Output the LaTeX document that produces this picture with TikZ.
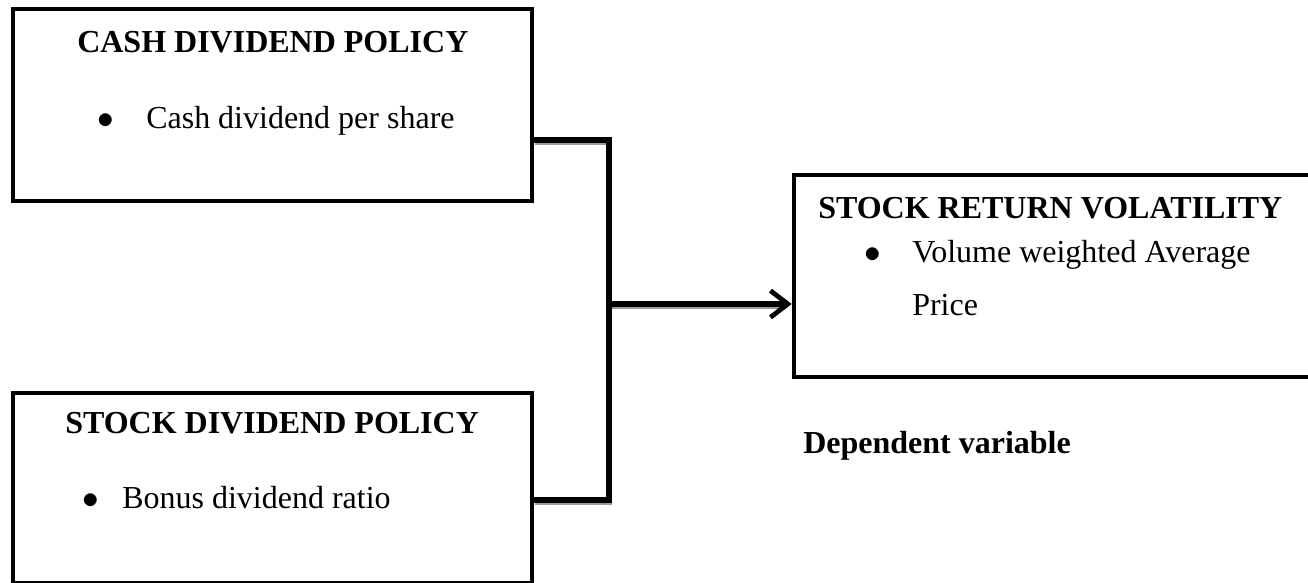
\documentclass[tikz,border=0pt]{standalone}
\usepackage{fontspec}
\setmainfont{Liberation Serif}
\usepackage{tikz}
\usetikzlibrary{arrows.meta,calc}
\definecolor{ink}{HTML}{000000}
\definecolor{greyline}{HTML}{9A9A9A}
\newcommand{\itembul}[1]{\makebox[#1][l]{$\bullet$}}

\begin{document}
\begin{tikzpicture}[x=0.75pt,y=-0.75pt,every node/.style={font=\fontsize{24}{29}\selectfont,inner sep=0pt},panel/.style={draw=ink,line width=3.4pt,fill=white},head/.style={anchor=base west,font=\fontsize{24}{29}\selectfont\bfseries},entry/.style={anchor=base west,align=left},link/.style={line width=3.8pt,ink,line cap=rect},shadowlink/.style={line width=3.8pt,greyline,transform canvas={xshift=0.6pt,yshift=-2.2pt}},arr/.style={-{Straight Barb[length=13pt,width=20pt,line width=3.6pt]},line width=3.8pt,ink}]
\clip (0,0) rectangle (1308,582);
\node[panel,minimum width=389pt,minimum height=144pt] (cash) at (272.5,105) {};
\node[panel,minimum width=389pt,minimum height=142.5pt] (stock) at (272.5,488) {};
\node[panel,minimum width=402pt,minimum height=151.5pt] (vol) at (1062,276) {};
\node[head] (cashT) at (77,52) {CASH DIVIDEND POLICY};
\node[entry] (cashI) at (97,128) {\itembul{36.75pt}Cash dividend per share};
\node[head] (stockT) at (65,433) {STOCK DIVIDEND POLICY};
\node[entry] (stockI) at (82,508) {\itembul{30pt}Bonus dividend ratio};
\node[head] (volT) at (818,218) {STOCK RETURN VOLATILITY};
\node[entry,font=\fontsize{24}{39.75}\selectfont] (volI) at (864,315) {\itembul{36pt}Volume weighted Average\\\hspace*{36pt}Price};
\node[head] (dep) at (803,453) {Dependent variable};
\coordinate (top) at (609,140);
\coordinate (bot) at (609,500);
\coordinate (join) at (609,304);
% shadow first, then the lines
\draw[shadowlink] (cash.east |- top) -- (top) -- (bot) -- (stock.east |- bot);
\draw[shadowlink] (join) -- ($(join -| vol.west)+(-8,0)$);
\draw[link] (cash.east |- top) -- (top) -- (bot) -- (stock.east |- bot);
\draw[arr] (join) -- (join -| vol.west);
\end{tikzpicture}
\end{document}
